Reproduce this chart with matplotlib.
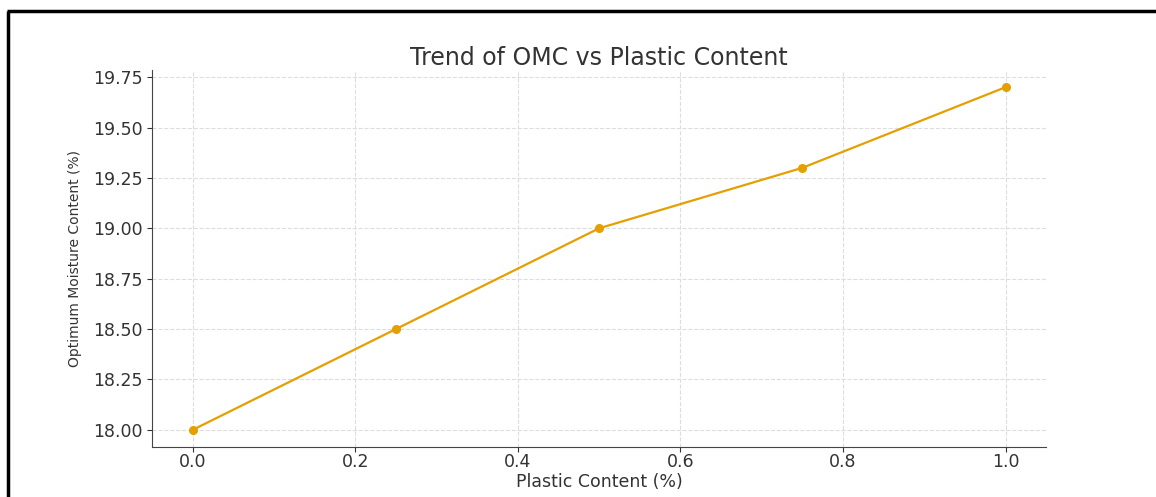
import matplotlib
matplotlib.use("Agg")
import matplotlib.pyplot as plt
from matplotlib.lines import Line2D

plastic_content = [0.0, 0.25, 0.5, 0.75, 1.0]
omc = [18.0, 18.5, 19.0, 19.3, 19.7]
yticks = [18.00, 18.25, 18.50, 18.75, 19.00, 19.25, 19.50, 19.75]

plt.rcParams['text.color'] = '#333333'
plt.rcParams['axes.labelcolor'] = '#333333'
plt.rcParams['xtick.color'] = '#333333'
plt.rcParams['ytick.color'] = '#333333'

fig = plt.figure(figsize=(11.56, 4.97), dpi=100)
ax = fig.add_axes([0.1315, 0.1006, 0.7735, 0.7584])

ax.plot(plastic_content, omc, marker='o', color='#e69f00', linewidth=1.6, markersize=5.5)

ax.set_title('Trend of OMC vs Plastic Content', fontsize=17, pad=4)
ax.set_xlabel('Plastic Content (%)', fontsize=12.5, labelpad=1)
ax.set_ylabel('Optimum Moisture Content (%)', fontsize=10, labelpad=8)
ax.set_yticks(yticks)
ax.set_yticklabels(['%.2f' % v for v in yticks])
ax.tick_params(labelsize=12.5)
ax.tick_params(axis='x', pad=1)
ax.grid(True, linestyle='--', color='#dddddd', linewidth=0.8)
for side in ['top', 'right']:
    ax.spines[side].set_visible(False)
for side in ['left', 'bottom']:
    ax.spines[side].set_color('#444444')

# screenshot frame on left and top
fig.add_artist(Line2D([0.0069, 0.0069], [0.0, 0.978], color='black', linewidth=2.5,
                      solid_capstyle='butt'))
fig.add_artist(Line2D([0.0058, 1.0], [0.978, 0.978], color='black', linewidth=2.5,
                      solid_capstyle='butt'))

fig.savefig('out.png', dpi=100)
